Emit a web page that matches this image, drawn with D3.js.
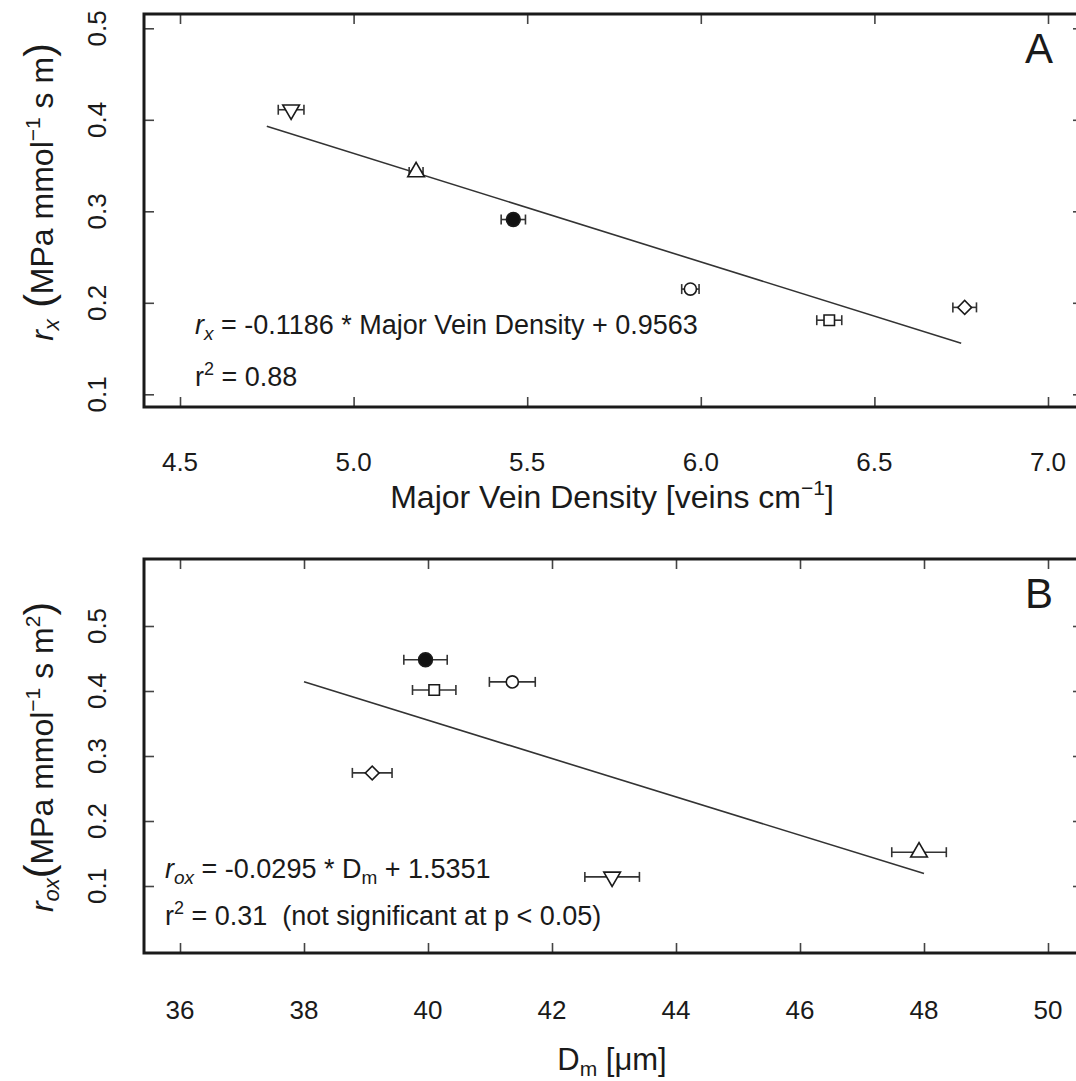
<!DOCTYPE html>
<html>
<head>
<meta charset="utf-8">
<script src="https://cdn.jsdelivr.net/npm/d3@7"></script>
<style>
  body { margin: 0; background: #fff; }
  text { font-family: "Liberation Sans", Arial, sans-serif; fill: #1a1a1a; }
</style>
</head>
<body>
<div id="chart"></div>
<script>
// one marker per taxon, same order in both panels
const shapes = ['triangle-down', 'triangle-up', 'circle-filled', 'circle-open', 'square', 'diamond']

// panel A
const veinDensity = [4.82, 5.18, 5.46, 5.97, 6.37, 6.76]
const veinDensityErr = [0.037, 0.02, 0.035, 0.025, 0.036, 0.034]
const rx = [0.411, 0.343, 0.291, 0.215, 0.181, 0.195]
const fitA = [-0.1186, 0.9563] // slope, intercept
const fitRangeA = [4.75, 6.75]
const xTicksA = [4.5, 5.0, 5.5, 6.0, 6.5, 7.0]
const yTicksA = [0.1, 0.2, 0.3, 0.4, 0.5]

// panel B
const dm = [42.97, 47.92, 39.96, 41.36, 40.10, 39.10]
const dmErr = [0.44, 0.44, 0.35, 0.37, 0.35, 0.32]
const rox = [0.114, 0.152, 0.448, 0.414, 0.4015, 0.274]
const fitB = [-0.0295, 1.5351]
const fitRangeB = [38, 48]
const xTicksB = [36, 38, 40, 42, 44, 46, 48, 50]
const yTicksB = [0.1, 0.2, 0.3, 0.4, 0.5]

const width = 1076
const height = 1081

const svg = d3
  .select('#chart')
  .append('svg')
  .attr('width', width)
  .attr('height', height)

function drawPanel(opts) {
  const { frame, x, y, xTicks, yTicks, xFmt, points, fit, fitRange, letter } = opts
  const g = svg.append('g')

  // axes with inward ticks, no labels (drawn below)
  const tick = 10
  g.append('g')
    .attr('transform', `translate(0,${frame.bottom})`)
    .call(d3.axisBottom(x).tickValues(xTicks).tickSize(-tick).tickFormat(''))
  g.append('g')
    .attr('transform', `translate(0,${frame.top})`)
    .call(d3.axisTop(x).tickValues(xTicks).tickSize(-tick).tickFormat(''))
  g.append('g')
    .attr('transform', `translate(${frame.left},0)`)
    .call(d3.axisLeft(y).tickValues(yTicks).tickSize(-tick).tickFormat(''))
  g.append('g')
    .attr('transform', `translate(${frame.right},0)`)
    .call(d3.axisRight(y).tickValues(yTicks).tickSize(-tick).tickFormat(''))
  g.selectAll('.domain').remove()
  g.selectAll('.tick line').attr('stroke', '#444').attr('stroke-width', 1.6)

  // box
  g.append('rect')
    .attr('x', frame.left)
    .attr('y', frame.top)
    .attr('width', frame.right - frame.left)
    .attr('height', frame.bottom - frame.top)
    .attr('fill', 'none')
    .attr('stroke', '#1a1a1a')
    .attr('stroke-width', 3)

  // tick labels
  g.selectAll('.xlab')
    .data(xTicks)
    .enter()
    .append('text')
    .attr('x', d => x(d))
    .attr('y', frame.bottom + opts.xLabGap)
    .attr('text-anchor', 'middle')
    .attr('font-size', 26)
    .text(xFmt)

  g.selectAll('.ylab')
    .data(yTicks)
    .enter()
    .append('text')
    .attr('transform', d => `translate(106,${y(d)}) rotate(-90)`)
    .attr('text-anchor', 'middle')
    .attr('font-size', 26)
    .text(d => d.toFixed(1))

  // regression line
  g.append('line')
    .attr('x1', x(fitRange[0]))
    .attr('x2', x(fitRange[1]))
    .attr('y1', y(fit[0] * fitRange[0] + fit[1]))
    .attr('y2', y(fit[0] * fitRange[1] + fit[1]))
    .attr('stroke', '#333')
    .attr('stroke-width', 1.6)

  // error bars
  const eb = g.selectAll('.eb').data(points).enter().append('g')
  eb.append('line')
    .attr('x1', d => x(d.x - d.err))
    .attr('x2', d => x(d.x + d.err))
    .attr('y1', d => y(d.y))
    .attr('y2', d => y(d.y))
    .attr('stroke', '#333')
    .attr('stroke-width', 1.6)
  eb.selectAll('.cap')
    .data(d => [d.x - d.err, d.x + d.err].map(v => ({ v, y: d.y })))
    .enter()
    .append('line')
    .attr('x1', c => x(c.v))
    .attr('x2', c => x(c.v))
    .attr('y1', c => y(c.y) - 5)
    .attr('y2', c => y(c.y) + 5)
    .attr('stroke', '#333')
    .attr('stroke-width', 1.6)

  // markers
  const symbolFor = {
    'triangle-down': [d3.symbolTriangle, 120, 180],
    'triangle-up': [d3.symbolTriangle, 120, 0],
    'circle-filled': [d3.symbolCircle, 150, 0],
    'circle-open': [d3.symbolCircle, 115, 0],
    square: [d3.symbolSquare, 110, 0],
    diamond: [d3.symbolSquare, 95, 45]
  }
  g.selectAll('.pt')
    .data(points)
    .enter()
    .append('path')
    .attr('d', d => d3.symbol().type(symbolFor[d.shape][0]).size(symbolFor[d.shape][1])())
    .attr('transform', d => `translate(${x(d.x)},${y(d.y)}) rotate(${symbolFor[d.shape][2]})`)
    .attr('fill', d => (d.shape === 'circle-filled' ? '#111' : '#fff'))
    .attr('stroke', '#1a1a1a')
    .attr('stroke-width', 1.6)

  // panel letter
  g.append('text')
    .attr('x', 1039)
    .attr('y', frame.top + 49)
    .attr('text-anchor', 'middle')
    .attr('font-size', 42)
    .text(letter)

  return g
}

// ---- panel A
const frameA = { left: 144, right: 1083, top: 14, bottom: 407 }
const xA = d3.scaleLinear().domain([4.5, 7.0]).range([180, 1048])
const yA = d3.scaleLinear().domain([0.1, 0.5]).range([394.3, 28.3])
const pointsA = shapes.map((s, i) => ({ shape: s, x: veinDensity[i], y: rx[i], err: veinDensityErr[i] }))

const gA = drawPanel({
  frame: frameA, x: xA, y: yA, xTicks: xTicksA, yTicks: yTicksA,
  xFmt: d => d.toFixed(1), points: pointsA, fit: fitA, fitRange: fitRangeA,
  letter: 'A', xLabGap: 64
})

const eqA = gA.append('text').attr('x', 195).attr('y', 334).attr('font-size', 27)
eqA.append('tspan').attr('font-style', 'italic').text('r')
eqA.append('tspan').attr('font-style', 'italic').attr('font-size', 19).attr('dy', 6).text('x')
eqA.append('tspan').attr('dy', -6).text(' = -0.1186 * Major Vein Density + 0.9563')

const r2A = gA.append('text').attr('x', 195).attr('y', 386).attr('font-size', 27)
r2A.append('tspan').text('r')
r2A.append('tspan').attr('font-size', 18).attr('dy', -11).text('2')
r2A.append('tspan').attr('dy', 11).text(' = 0.88')

const xtA = gA.append('text').attr('x', 612).attr('y', 508).attr('text-anchor', 'middle').attr('font-size', 32)
xtA.append('tspan').text('Major Vein Density [veins cm')
xtA.append('tspan').attr('font-size', 21).attr('dy', -13).text('\u22121')
xtA.append('tspan').attr('dy', 13).text(']')

const ytA = gA.append('text')
  .attr('transform', 'translate(53,192) rotate(-90)')
  .attr('text-anchor', 'middle')
  .attr('font-size', 32)
ytA.append('tspan').attr('font-style', 'italic').text('r')
ytA.append('tspan').attr('font-style', 'italic').attr('font-size', 22).attr('dy', 6).text('x')
ytA.append('tspan').attr('dy', -6).attr('font-size', 41).text(' (')
ytA.append('tspan').text('MPa mmol')
ytA.append('tspan').attr('font-size', 21).attr('dy', -13).text('\u22121')
ytA.append('tspan').attr('dy', 13).text(' s m')
ytA.append('tspan').attr('font-size', 41).text(')')

// ---- panel B
const frameB = { left: 144, right: 1083, top: 559, bottom: 953 }
const xB = d3.scaleLinear().domain([36, 50]).range([180, 1048])
const yB = d3.scaleLinear().domain([0.1, 0.5]).range([886, 626])
const pointsB = shapes.map((s, i) => ({ shape: s, x: dm[i], y: rox[i], err: dmErr[i] }))

const gB = drawPanel({
  frame: frameB, x: xB, y: yB, xTicks: xTicksB, yTicks: yTicksB,
  xFmt: d => d, points: pointsB, fit: fitB, fitRange: fitRangeB,
  letter: 'B', xLabGap: 66
})

const eqB = gB.append('text').attr('x', 165).attr('y', 878).attr('font-size', 27)
eqB.append('tspan').attr('font-style', 'italic').text('r')
eqB.append('tspan').attr('font-style', 'italic').attr('font-size', 19).attr('dy', 6).text('ox')
eqB.append('tspan').attr('dy', -6).text(' = -0.0295 * D')
eqB.append('tspan').attr('font-size', 19).attr('dy', 6).text('m')
eqB.append('tspan').attr('dy', -6).text(' + 1.5351')

const r2B = gB.append('text').attr('x', 165).attr('y', 925).attr('font-size', 27)
r2B.append('tspan').text('r')
r2B.append('tspan').attr('font-size', 18).attr('dy', -11).text('2')
r2B.append('tspan').attr('dy', 11).text(' = 0.31  (not significant at p < 0.05)')
r2B.style('white-space', 'pre')

const xtB = gB.append('text').attr('x', 612).attr('y', 1070).attr('text-anchor', 'middle').attr('font-size', 31)
xtB.append('tspan').text('D')
xtB.append('tspan').attr('font-size', 21).attr('dy', 6).text('m')
xtB.append('tspan').attr('dy', -6).text(' [\u03bcm]')

const ytB = gB.append('text')
  .attr('transform', 'translate(53,757) rotate(-90)')
  .attr('text-anchor', 'middle')
  .attr('font-size', 32)
ytB.append('tspan').attr('font-style', 'italic').text('r')
ytB.append('tspan').attr('font-style', 'italic').attr('font-size', 22).attr('dy', 6).text('ox')
ytB.append('tspan').attr('dy', -6).attr('font-size', 41).text('(')
ytB.append('tspan').text('MPa mmol')
ytB.append('tspan').attr('font-size', 21).attr('dy', -13).text('\u22121')
ytB.append('tspan').attr('dy', 13).text(' s m')
ytB.append('tspan').attr('font-size', 21).attr('dy', -13).text('2')
ytB.append('tspan').attr('dy', 13).attr('font-size', 41).text(')')
</script>
</body>
</html>
